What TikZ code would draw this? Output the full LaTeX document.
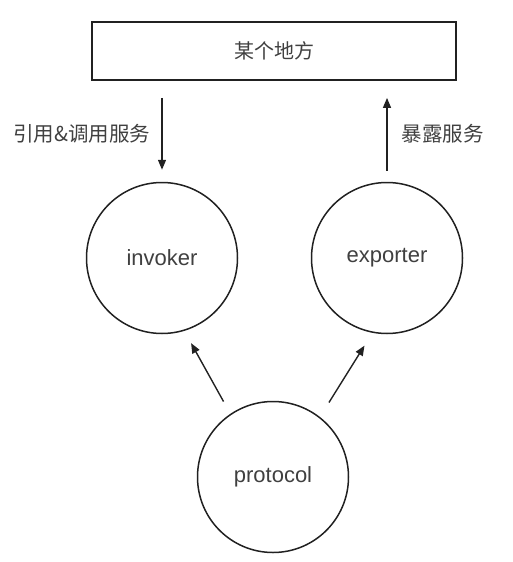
\documentclass[tikz,border=0pt]{standalone}
\usepackage{fontspec}
\setmainfont{Liberation Sans}
\newfontfamily\cjk{Noto Sans CJK SC}
\usepackage{tikz}
\usetikzlibrary{arrows.meta,positioning}
\definecolor{inkgray}{rgb}{0.13, 0.13, 0.13}
\definecolor{textgray}{rgb}{0.25, 0.25, 0.25}
\tikzset{
  placebox/.style={draw=inkgray, line width=1.8pt, minimum width=364pt, minimum height=58pt, inner sep=0pt, text=textgray},
  rolecircle/.style={draw=inkgray, line width=1.5pt, circle, minimum size=151pt, inner sep=0pt, text=textgray},
  flowarrow/.style={draw=inkgray, line width=1.4pt, -{Triangle[length=10pt,width=8pt]}},
  flowlabel/.style={text=textgray, inner sep=0pt}
}

\begin{document}
\begin{tikzpicture}[x=1pt,y=-1pt]
  \useasboundingbox (0,0) rectangle (512,562);

  \node[placebox] (place) at (274,51) {\cjk\fontsize{20}{20}\selectfont 某个地方};

  \node[rolecircle] (invoker) at (162,258) {\fontsize{22}{22}\selectfont invoker};
  \node[rolecircle] (exporter) at (387,258) {\fontsize{22}{22}\selectfont exporter};
  \node[rolecircle] (protocol) at (273,477) {\fontsize{22}{22}\selectfont protocol};

  % up and down to the place
  \draw[flowarrow, shorten <=17pt, shorten >=12pt] (invoker.north |- place.south) -- (invoker.north)
    node[flowlabel, pos=0.52, left=11pt] (refer) {\cjk\fontsize{20.5}{20.5}\selectfont 引用\&调用服务};
  \draw[flowarrow, shorten <=11pt, shorten >=17pt] (exporter.north) -- (exporter.north |- place.south)
    node[flowlabel, pos=0.48, right=14pt] (expose) {\cjk\fontsize{20.5}{20.5}\selectfont 暴露服务};

  % protocol makes both
  \draw[flowarrow, shorten <=14pt, shorten >=14pt] (protocol.124) -- (invoker.-73);
  \draw[flowarrow, shorten <=17pt, shorten >=15pt] (protocol.52) -- (exporter.-101);
\end{tikzpicture}
\end{document}
